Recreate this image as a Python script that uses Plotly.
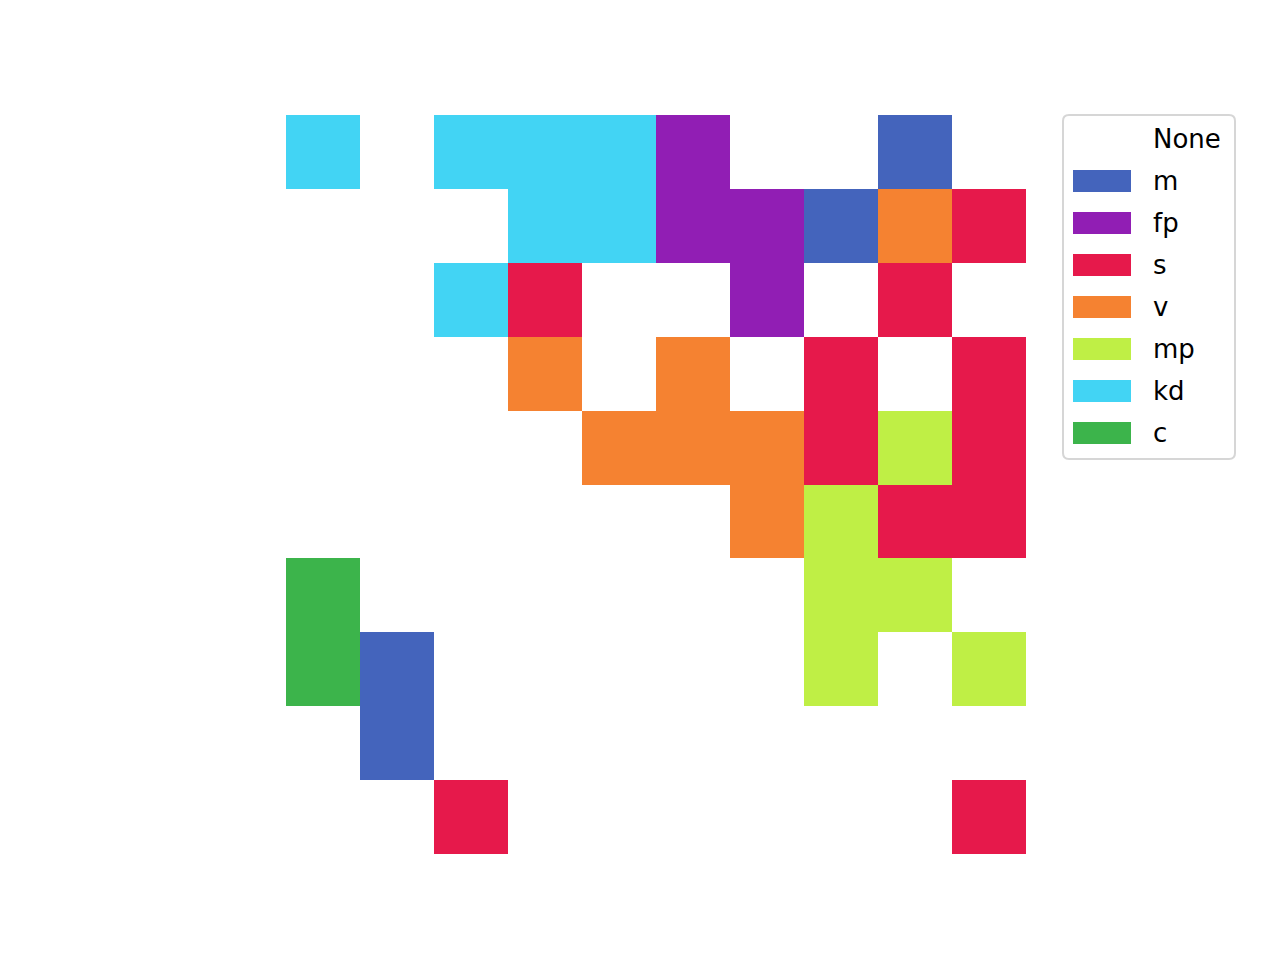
import plotly.graph_objects as go

categories = ["None", "m", "fp", "s", "v", "mp", "kd", "c"]
colors = ["#ffffff", "#4464bc", "#911eb4", "#e6194b", "#f58231", "#bfef45", "#42d4f4", "#3cb44b"]

grid = [
    ["kd", "None", "kd", "kd", "kd", "fp", "None", "None", "m", "None"],
    ["None", "None", "None", "kd", "kd", "fp", "fp", "m", "v", "s"],
    ["None", "None", "kd", "s", "None", "None", "fp", "None", "s", "None"],
    ["None", "None", "None", "v", "None", "v", "None", "s", "None", "s"],
    ["None", "None", "None", "None", "v", "v", "v", "s", "mp", "s"],
    ["None", "None", "None", "None", "None", "None", "v", "mp", "s", "s"],
    ["c", "None", "None", "None", "None", "None", "None", "mp", "mp", "None"],
    ["c", "m", "None", "None", "None", "None", "None", "mp", "None", "mp"],
    ["None", "m", "None", "None", "None", "None", "None", "None", "None", "None"],
    ["None", "None", "s", "None", "None", "None", "None", "None", "None", "s"],
]

n = len(categories)
z = [[categories.index(v) for v in row] for row in grid]
cscale = []
for i, c in enumerate(colors):
    cscale.append([i / n, c])
    cscale.append([(i + 1) / n, c])

fig = go.Figure(go.Heatmap(
    z=z, colorscale=cscale, zmin=-0.5, zmax=n - 0.5,
    showscale=False, hoverinfo="skip", xgap=0, ygap=0,
))

W, H = 1280, 960
L, R, T, B = 286, 254, 115, 106
PW, PH = W - L - R, H - T - B

def px(x):
    return (x - L) / PW

def py(y):
    return (H - B - y) / PH

shapes = []
annotations = []
# legend frame (rounded)
x0, x1, y0, y1, r = 1063, 1235, 115, 459, 6
path = (
    f"M {px(x0 + r)},{py(y0)} L {px(x1 - r)},{py(y0)} Q {px(x1)},{py(y0)} {px(x1)},{py(y0 + r)} "
    f"L {px(x1)},{py(y1 - r)} Q {px(x1)},{py(y1)} {px(x1 - r)},{py(y1)} "
    f"L {px(x0 + r)},{py(y1)} Q {px(x0)},{py(y1)} {px(x0)},{py(y1 - r)} "
    f"L {px(x0)},{py(y0 + r)} Q {px(x0)},{py(y0)} {px(x0 + r)},{py(y0)} Z"
)
shapes.append(dict(type="path", path=path, xref="paper", yref="paper",
                   line=dict(color="#d6d6d6", width=2), fillcolor="white", layer="above"))
for i, (cat, col) in enumerate(zip(categories, colors)):
    yc = 139 + 42 * i
    shapes.append(dict(type="rect", xref="paper", yref="paper",
                       x0=px(1073), x1=px(1131), y0=py(yc - 11), y1=py(yc + 11),
                       fillcolor=col, line=dict(width=0), layer="above"))
    annotations.append(dict(text=cat, xref="paper", yref="paper", x=px(1151), y=py(yc),
                            xanchor="left", yanchor="middle", showarrow=False,
                            font=dict(family="DejaVu Sans", size=26, color="black")))

fig.update_layout(
    width=W, height=H,
    margin=dict(l=L, r=R, t=T, b=B),
    paper_bgcolor="white", plot_bgcolor="white",
    xaxis=dict(visible=False, range=[-0.5, 9.5], showgrid=False, zeroline=False),
    yaxis=dict(visible=False, range=[9.5, -0.5], showgrid=False, zeroline=False),
    shapes=shapes, annotations=annotations, showlegend=False,
)

fig.write_html("out.html")
